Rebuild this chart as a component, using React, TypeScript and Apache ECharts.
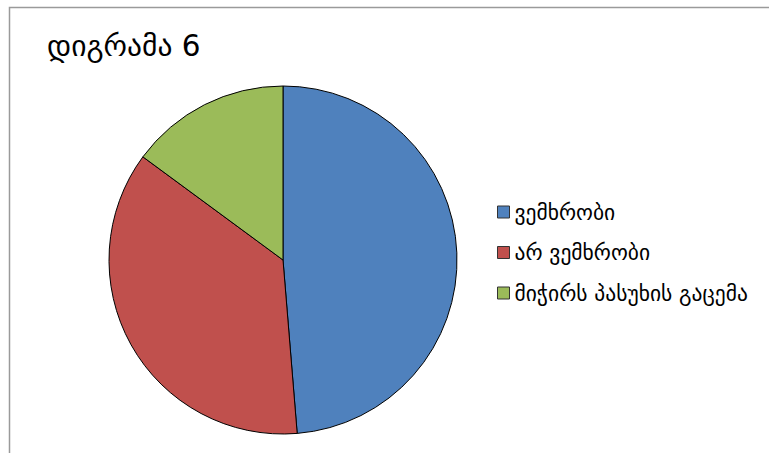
import React, { useEffect, useRef } from "react";
import * as echarts from "echarts";

const titleText = "დიგრამა 6";
const categories = ["ვემხრობი", "არ ვემხრობი", "მიჭირს პასუხის გაცემა"];
const values = [48.7, 36.4, 14.9];
const colors = ["#4F81BD", "#C0504D", "#9BBB59"];

export default function App() {
  const ref = useRef<HTMLDivElement>(null);
  useEffect(() => {
    const chart = echarts.init(ref.current!, null, { renderer: "svg" });
    chart.setOption({
      animation: false,
      backgroundColor: "#ffffff",
      title: {
        text: titleText,
        left: 42,
        top: 26,
        textStyle: { fontFamily: "DejaVu Sans", fontSize: 29.5, fontWeight: "normal", color: "#000" },
      },
      graphic: [
        {
          type: "rect",
          shape: { x: 9.5, y: 7.5, width: 800, height: 500 },
          style: { fill: "none", stroke: "#9a9a9a", lineWidth: 1.5 },
          z: -1,
        },
      ],
      legend: {
        orient: "vertical",
        left: 497,
        top: 201,
        padding: 0,
        itemWidth: 12,
        itemHeight: 12,
        itemGap: 18.5,
        itemTextGap: 5,
        icon: "rect",
        data: categories,
        textStyle: { fontFamily: "DejaVu Sans", fontSize: 21.5, color: "#000" },
        itemStyle: { borderColor: "#333", borderWidth: 1 },
      },
      series: [
        {
          type: "pie",
          center: [283, 260],
          radius: 174,
          startAngle: 90,
          clockwise: true,
          label: { show: false },
          labelLine: { show: false },
          emphasis: { disabled: true },
          itemStyle: { borderColor: "#000", borderWidth: 1 },
          data: categories.map((c, i) => ({ name: c, value: values[i], itemStyle: { color: colors[i] } })),
        },
      ],
    });
    return () => chart.dispose();
  }, []);
  return <div ref={ref} style={{ position: "fixed", left: 0, top: 0, width: 769, height: 453 }} />;
}
